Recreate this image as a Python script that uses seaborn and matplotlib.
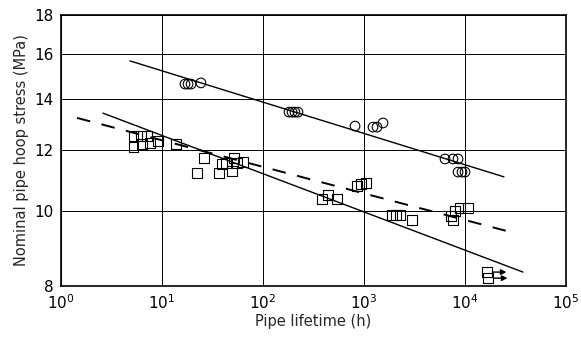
import numpy as np
import pandas as pd
import matplotlib
matplotlib.use("Agg")
import matplotlib.pyplot as plt
import matplotlib.transforms as mtransforms
import seaborn as sns

# --- data ---
circle_t = [16.9, 18.1, 19.4, 24.3, 181, 194, 207, 222, 815, 1228, 1345, 1543,
            6340, 7600, 8530, 8530, 9340, 10000]
circle_v = [14.64, 14.64, 14.64, 14.69, 13.46, 13.46, 13.46, 13.46, 12.91, 12.87, 12.87, 13.03,
            11.70, 11.70, 11.70, 11.25, 11.25, 11.25]

square_t = [5.2, 6.2, 7.1, 5.2, 6.3, 7.6, 9.1, 13.8, 26.0, 22.2, 36.7, 39.3, 43.0, 51.6, 49.3, 55.3, 63.4,
            384, 440, 540, 853, 934, 1047, 1892, 2074, 2271, 2987,
            7264, 7960, 7604, 8920, 10710, 16500, 16900]
square_v = [12.53, 12.53, 12.53, 12.13, 12.23, 12.27, 12.34, 12.23, 11.73, 11.22, 11.22, 11.52, 11.56, 11.73, 11.29, 11.56, 11.59,
            10.38, 10.50, 10.38, 10.79, 10.86, 10.89, 9.90, 9.90, 9.90, 9.74,
            9.86, 10.01, 9.74, 10.10, 10.10, 8.34, 8.19]

runout_t = [16500, 16900]
runout_v = [8.34, 8.19]

upper_line_t = [4.82, 24300]
upper_line_v = [15.69, 11.09]
lower_line_t = [2.6, 37500]
lower_line_v = [13.42, 8.34]
dashed_line_t = [1.44, 26000]
dashed_line_v = [13.23, 9.43]

x_ticks = [1, 10, 100, 1000, 10000, 100000]
x_labels = [r"$10^{0}$", r"$10^{1}$", r"$10^{2}$", r"$10^{3}$", r"$10^{4}$", r"$10^{5}$"]
y_ticks = [8, 10, 12, 14, 16, 18]
y_labels = ["8", "10", "12", "14", "16", "18"]

# --- plotting ---
sns.set_style("white")
plt.rcParams['font.family'] = ['DejaVu Sans']
plt.rcParams['mathtext.fontset'] = 'dejavusans'

fig = plt.figure(figsize=(5.81, 3.45), dpi=100)
ax = fig.add_axes([61/581, 1-286/345, (566-61)/581, (286-15)/345])
ax.set_xscale('log')
ax.set_yscale('log')

circles = pd.DataFrame({"t": circle_t, "v": circle_v})
squares = pd.DataFrame({"t": square_t, "v": square_v})

sns.lineplot(x=upper_line_t, y=upper_line_v, ax=ax, color='black', lw=1.0)
sns.lineplot(x=lower_line_t, y=lower_line_v, ax=ax, color='black', lw=1.0)
sns.lineplot(x=dashed_line_t, y=dashed_line_v, ax=ax, color='black', lw=1.4)
ax.lines[-1].set_dashes([7, 6])

sns.scatterplot(data=circles, x="t", y="v", ax=ax, marker='o', s=48,
                facecolor='none', edgecolor='black', linewidth=0.8, zorder=3)
sns.scatterplot(data=squares, x="t", y="v", ax=ax, marker='s', s=48,
                facecolor='none', edgecolor='black', linewidth=0.8, zorder=3)

for t, v in zip(runout_t, runout_v):
    start = mtransforms.offset_copy(ax.transData, fig=fig, x=4, y=0, units='points')
    end = mtransforms.offset_copy(ax.transData, fig=fig, x=14, y=0, units='points')
    ax.annotate('', xy=(t, v), xycoords=end, xytext=(t, v), textcoords=start,
                arrowprops=dict(arrowstyle='-|>', color='black', lw=1.0,
                                mutation_scale=8, shrinkA=0, shrinkB=0), zorder=4)

ax.set_xlim(1, 1e5)
ax.set_ylim(8, 18)
ax.set_xticks(x_ticks)
ax.set_xticklabels(x_labels)
ax.set_yticks(y_ticks)
ax.set_yticklabels(y_labels)
ax.minorticks_off()
ax.tick_params(axis='both', which='both', length=0, labelsize=11, pad=5, colors='black')

ax.grid(True, which='major', color='black', lw=0.7)
for sp in ax.spines.values():
    sp.set_color('black')
    sp.set_linewidth(1.2)

ax.set_xlabel("Pipe lifetime (h)", fontsize=10.5, labelpad=2)
ax.set_ylabel("Nominal pipe hoop stress (MPa)", fontsize=10.5, labelpad=4)
if ax.get_legend() is not None:
    ax.get_legend().remove()

fig.savefig("out.png", dpi=100)
